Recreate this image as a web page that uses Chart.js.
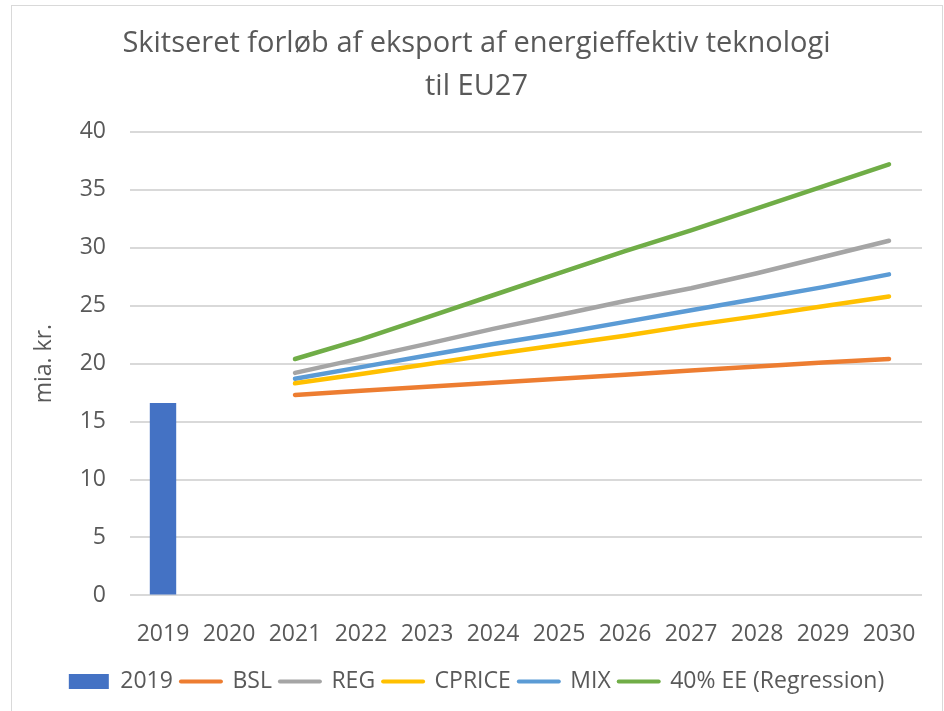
<!DOCTYPE html>
<html><head><meta charset="utf-8">
<script src="https://cdn.jsdelivr.net/npm/chart.js@4/dist/chart.umd.min.js"></script>
<style>
html,body{margin:0;padding:0;background:#fff;overflow:hidden}
#wrap{position:relative;width:944px;height:711px}
#frame{position:absolute;left:11px;top:5px;width:932px;height:720px;border:1px solid #d9d9d9;box-sizing:border-box;pointer-events:none}
canvas{position:absolute;left:0;top:0}
</style></head><body>
<div id="wrap"><canvas id="c" width="944" height="711"></canvas><div id="frame"></div></div>
<script>
const years = ['2019','2020','2021','2022','2023','2024','2025','2026','2027','2028','2029','2030'];
const actual2019 = [16.6, null, null, null, null, null, null, null, null, null, null, null];
const bsl    = [null, null, 17.3, 17.65, 18.0, 18.35, 18.7, 19.05, 19.4, 19.75, 20.1, 20.4];
const reg    = [null, null, 19.2, 20.45, 21.7, 23.0, 24.2, 25.4, 26.5, 27.8, 29.2, 30.6];
const cprice = [null, null, 18.3, 19.1, 19.95, 20.8, 21.6, 22.4, 23.3, 24.1, 24.95, 25.8];
const mix    = [null, null, 18.7, 19.7, 20.7, 21.7, 22.6, 23.6, 24.6, 25.6, 26.6, 27.7];
const ee40   = [null, null, 20.4, 22.1, 24.0, 25.9, 27.8, 29.7, 31.5, 33.4, 35.3, 37.2];
const yTicks = [0, 5, 10, 15, 20, 25, 30, 35, 40];
const titleLines = ['Skitseret forløb af eksport af energieffektiv teknologi', 'til EU27'];
const yTitle = 'mia. kr.';

const TXT = '#595959';
const GRID = '#d9d9d9';
const tickFont = {family: "'Open Sans', sans-serif", size: 23};

function lineDs(label, data, color) {
  return {type: 'line', label, data, borderColor: color, backgroundColor: color,
    borderWidth: 4.5, borderCapStyle: 'round', borderJoinStyle: 'round',
    pointRadius: 0, pointHoverRadius: 0, tension: 0, spanGaps: false};
}

new Chart(document.getElementById('c'), {
  data: {
    labels: years,
    datasets: [
      {type: 'bar', label: '2019', data: actual2019, backgroundColor: '#4472C4',
       categoryPercentage: 1, barPercentage: 0.4, skipNull: true},
      lineDs('BSL', bsl, '#ED7D31'),
      lineDs('REG', reg, '#A5A5A5'),
      lineDs('CPRICE', cprice, '#FFC000'),
      lineDs('MIX', mix, '#5B9BD5'),
      lineDs('40% EE (Regression)', ee40, '#70AD47')
    ]
  },
  options: {
    responsive: false,
    animation: false,
    layout: {padding: {left: 31, right: 22, top: 22, bottom: 8}},
    plugins: {
      tooltip: {enabled: false},
      title: {display: true, text: titleLines, color: TXT,
        font: {family: "'Open Sans', sans-serif", size: 29, weight: 'normal', lineHeight: 1.48},
        padding: {top: 0, bottom: 24}},
      legend: {position: 'bottom',
        labels: {color: TXT, font: tickFont, usePointStyle: true, pointStyleWidth: 40, boxHeight: 15, padding: 8,
          generateLabels(chart) {
            const items = Chart.defaults.plugins.legend.labels.generateLabels(chart);
            items.forEach(it => {
              const ds = chart.data.datasets[it.datasetIndex];
              if (ds.type === 'bar') { it.pointStyle = 'rect'; it.lineWidth = 0; it.fillStyle = ds.backgroundColor; it.strokeStyle = ds.backgroundColor; }
              else { it.pointStyle = 'line'; it.lineWidth = 4; it.strokeStyle = ds.borderColor; it.lineCap = 'round'; }
            });
            return items;
          }}}
    },
    scales: {
      x: {grid: {display: false, drawTicks: false}, border: {display: false},
        ticks: {color: TXT, font: tickFont, padding: 25, maxRotation: 0},
        afterFit(scale) { scale.height = 66.6; }},
      y: {min: 0, max: 40,
        afterBuildTicks(scale) { scale.ticks = yTicks.map(v => ({value: v})); },
        grid: {color: GRID, lineWidth: 2, drawTicks: false}, border: {display: false},
        ticks: {color: TXT, font: tickFont, padding: 24},
        title: {display: true, text: yTitle, color: TXT, font: tickFont, padding: {top: 0, bottom: 0}},
        afterFit(scale) { scale.width = 99; }
      }
    }
  }
});
</script>
</body></html>
